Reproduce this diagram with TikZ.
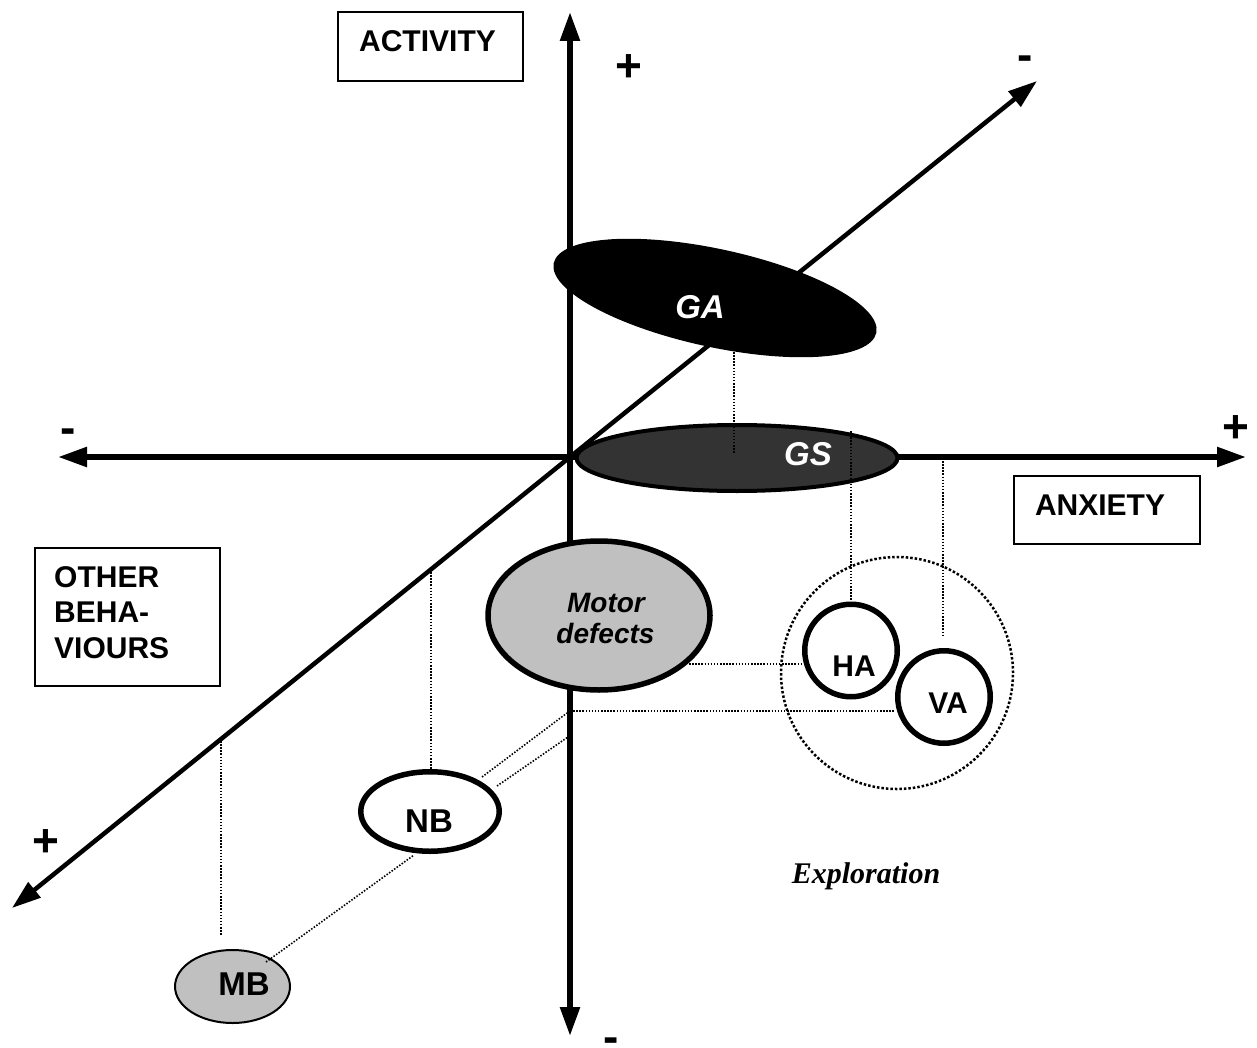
\documentclass[tikz,border=0pt]{standalone}
\usepackage{fontspec}
\setmainfont{Liberation Serif}
\setsansfont{Liberation Sans}
\usetikzlibrary{arrows.meta,shapes.geometric}
\definecolor{gsgray}{HTML}{333333}
\definecolor{ltgray}{HTML}{C0C0C0}
\tikzset{
  axisline/.style={line width=5.5pt, -{Triangle[length=29pt,width=19pt]}},
  dotline/.style={line width=1.6pt, dash pattern=on 1.5pt off 1.6pt},
  lbl/.style={font=\sffamily\bfseries\fontsize{30}{36}\selectfont, inner sep=0pt},
  sign/.style={font=\sffamily\bfseries\fontsize{46}{50}\selectfont, inner sep=0pt},
  lblit/.style={font=\sffamily\bfseries\itshape\fontsize{33}{38}\selectfont, inner sep=0pt},
  boxnode/.style={draw, line width=2pt, inner sep=0pt},
  ell/.style={ellipse, inner sep=0pt},
}
\begin{document}
\begin{tikzpicture}[x=1pt,y=-1pt]
\useasboundingbox (0,0) rectangle (1257,1048);
% axes
\coordinate (O) at (570,457);
\coordinate (vtop) at (570,12);
\coordinate (vbot) at (570,1036);
\coordinate (hleft) at (58,457);
\coordinate (hright) at (1246,457);
\coordinate (dup) at (1037,81);
\coordinate (ddown) at (12,908);
\draw[axisline] (O) -- (vtop);
\draw[axisline] (O) -- (vbot);
\draw[axisline] (O) -- (hleft);
\draw[axisline] (O) -- (hright);
\draw[axisline, line width=4.5pt] (O) -- (dup);
\draw[axisline, line width=4.5pt] (O) -- (ddown);
% signs
\node[sign] (p1) at (629,68) {+};
\node[sign] (m1) at (1025,63) {-};
\node[sign] (m2) at (68,436) {-};
\node[sign] (p2) at (1236,429) {+};
\node[sign] (p3) at (46,843) {+};
\node[sign] (m3) at (611,1045) {-};
% boxes
\node[boxnode, minimum width=185, minimum height=69] (actbox) at (430.5,46.5) {};
\node[lbl, anchor=base] (act) at (427.5,52) {ACTIVITY};
\node[boxnode, minimum width=186, minimum height=68] (anxbox) at (1107,510) {};
\node[lbl, anchor=base] (anx) at (1100,515) {ANXIETY};
\node[boxnode, minimum width=185, minimum height=138] (othbox) at (127.5,617) {};
\node[lbl, anchor=base west] (oth1) at (54,587) {OTHER};
\node[lbl, anchor=base west] (oth2) at (54,622) {BEHA-};
\node[lbl, anchor=base west] (oth3) at (54,658) {VIOURS};
% ellipses
\node[ell, fill=black, minimum width=330, minimum height=98, rotate=-12.2] (GA) at (715,298) {};
\node[lblit, text=white] (GAt) at (700,307) {GA};
\node[ell, fill=gsgray, draw=black, line width=4pt, minimum width=321, minimum height=66] (GS) at (737,458) {};
\node[lblit, text=white] (GSt) at (808,454) {GS};
\node[ell, fill=ltgray, draw=black, line width=5.5pt, minimum width=222, minimum height=149] (MD) at (599,615.5) {};
\node[font=\sffamily\bfseries\itshape\fontsize{28}{31}\selectfont, inner sep=0pt, anchor=base] (MDt1) at (606,612) {Motor};
\node[font=\sffamily\bfseries\itshape\fontsize{28}{31}\selectfont, inner sep=0pt, anchor=base] (MDt2) at (605.5,643) {defects};
% exploration circle
\node[circle, draw=black, line width=2.5pt, dash pattern=on 2.5pt off 2pt, minimum size=232, inner sep=0pt] (EXC) at (897,673) {};
\node[circle, draw=black, fill=white, line width=5.5pt, minimum size=92.5, inner sep=0pt] (HA) at (851,650.5) {};
\node[lbl] (HAt) at (854,666) {HA};
\node[circle, draw=black, fill=white, line width=5.5pt, minimum size=92.5, inner sep=0pt] (VA) at (944,697) {};
\node[lbl] (VAt) at (948,703) {VA};
\node[font=\rmfamily\bfseries\itshape\fontsize{30}{36}\selectfont, inner sep=0pt, anchor=base] (expl) at (866,883) {Exploration};
% NB and MB
\node[ell, fill=white, draw=black, line width=5.5pt, minimum width=138.5, minimum height=79.5] (NB) at (430,811.5) {};
\node[lbl, font=\sffamily\bfseries\fontsize{33}{38}\selectfont] (NBt) at (429,821) {NB};
\node[ell, fill=ltgray, draw=black, line width=2pt, minimum width=115, minimum height=73] (MB) at (232.5,986.5) {};
\node[lbl, font=\sffamily\bfseries\fontsize{33}{38}\selectfont] (MBt) at (244,984) {MB};
% dotted projection lines
\coordinate (a1) at (734,352); \coordinate (a2) at (734,453);
\coordinate (b1) at (851,431); \coordinate (b2) at (851,604);
\coordinate (c1) at (943,461); \coordinate (c2) at (943,637);
\coordinate (d1) at (689,664); \coordinate (d2) at (802,664);
\coordinate (e1) at (570,711); \coordinate (e2) at (895,711);
\coordinate (f1) at (482,777); \coordinate (f2) at (567,713);
\coordinate (g1) at (497,786); \coordinate (g2) at (568,737);
\coordinate (h1) at (266,962); \coordinate (h2) at (414,855);
\coordinate (i1) at (431,572); \coordinate (i2) at (431,769);
\coordinate (j1) at (221,741); \coordinate (j2) at (221,936);
\draw[dotline] (a1) -- (a2);
\draw[dotline] (b1) -- (b2);
\draw[dotline] (c1) -- (c2);
\draw[dotline] (d1) -- (d2);
\draw[dotline] (e1) -- (e2);
\draw[dotline] (f1) -- (f2);
\draw[dotline] (g1) -- (g2);
\draw[dotline] (h1) -- (h2);
\draw[dotline] (i1) -- (i2);
\draw[dotline] (j1) -- (j2);
\end{tikzpicture}
\end{document}
